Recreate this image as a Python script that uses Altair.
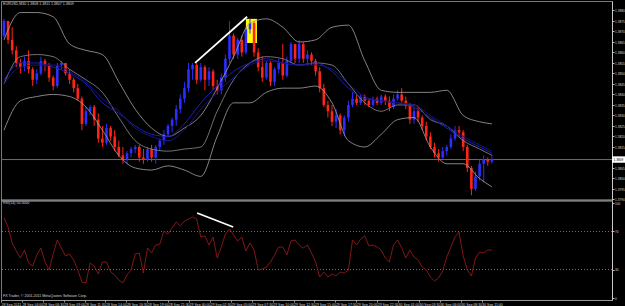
import altair as alt
import pandas as pd

SYMBOL = "EURUSD,M30"
RSI_NAME = "RSI(14)"
COPYRIGHT = "FX Trader, \u00a9 2001-2011 MetaQuotes Software Corp."
FONT = "Liberation Sans"

# ---- candles (bar index 0..119) ----
open_ = [1.3868, 1.3875, 1.3866, 1.3861, 1.3855, 1.3853, 1.3856, 1.3852, 1.3847, 1.3850,
         1.3856, 1.3854, 1.3848, 1.3844, 1.3854, 1.3855, 1.3850, 1.3847, 1.3843, 1.3838,
         1.3826, 1.3832, 1.3834, 1.3828, 1.3819, 1.3817, 1.3824, 1.3820, 1.3815, 1.3811,
         1.3809, 1.3812, 1.3814, 1.3815, 1.3810, 1.3809, 1.3814, 1.3810, 1.3815, 1.3818,
         1.3821, 1.3825, 1.3828, 1.3833, 1.3838, 1.3843, 1.3852, 1.3854, 1.3847, 1.3853,
         1.3847, 1.3851, 1.3844, 1.3842, 1.3848, 1.3857, 1.3868, 1.3859, 1.3866, 1.3860,
         1.3871, 1.3874, 1.3860, 1.3853, 1.3848, 1.3855, 1.3846, 1.3852, 1.3855, 1.3849,
         1.3856, 1.3864, 1.3857, 1.3864, 1.3857, 1.3859, 1.3856, 1.3851, 1.3843, 1.3835,
         1.3832, 1.3827, 1.3830, 1.3823, 1.3829, 1.3835, 1.3838, 1.3836, 1.3839, 1.3837,
         1.3835, 1.3838, 1.3836, 1.3839, 1.3837, 1.3834, 1.3838, 1.3840, 1.3837, 1.3835,
         1.3828, 1.3832, 1.3829, 1.3825, 1.3820, 1.3815, 1.3812, 1.3810, 1.3813, 1.3815,
         1.3819, 1.3823, 1.3822, 1.3815, 1.3805, 1.3795, 1.3801, 1.3807, 1.3809, 1.3808]
high_ = [1.3876, 1.3875, 1.3872, 1.3863, 1.3857, 1.3858, 1.3861, 1.3853, 1.3852, 1.3858,
         1.3857, 1.3855, 1.3849, 1.3855, 1.3856, 1.3855, 1.3852, 1.3848, 1.3845, 1.3839,
         1.3834, 1.3835, 1.3835, 1.3831, 1.3825, 1.3826, 1.3825, 1.3823, 1.3818, 1.3815,
         1.3813, 1.3815, 1.3816, 1.3816, 1.3814, 1.3815, 1.3816, 1.3816, 1.3819, 1.3823,
         1.3826, 1.3829, 1.3835, 1.3840, 1.3846, 1.3855, 1.3855, 1.3855, 1.3855, 1.3854,
         1.3853, 1.3852, 1.3847, 1.3850, 1.3859, 1.3875, 1.3869, 1.3867, 1.3868, 1.3872,
         1.3876, 1.3875, 1.3862, 1.3858, 1.3856, 1.3856, 1.3853, 1.3857, 1.3864, 1.3858,
         1.3865, 1.3864, 1.3866, 1.3865, 1.3861, 1.3860, 1.3857, 1.3853, 1.3845, 1.3837,
         1.3835, 1.3833, 1.3831, 1.3830, 1.3837, 1.3841, 1.3840, 1.3840, 1.3840, 1.3838,
         1.3839, 1.3839, 1.3840, 1.3840, 1.3839, 1.3840, 1.3842, 1.3843, 1.3839, 1.3836,
         1.3834, 1.3834, 1.3830, 1.3827, 1.3822, 1.3817, 1.3814, 1.3815, 1.3816, 1.3821,
         1.3825, 1.3825, 1.3823, 1.3816, 1.3806, 1.3803, 1.3809, 1.3811, 1.3810, 1.3811]
low_ = [1.3867, 1.3864, 1.3859, 1.3853, 1.3850, 1.3851, 1.3850, 1.3844, 1.3845, 1.3849,
        1.3851, 1.3846, 1.3842, 1.3843, 1.3852, 1.3849, 1.3845, 1.3841, 1.3837, 1.3823,
        1.3825, 1.3830, 1.3825, 1.3817, 1.3815, 1.3816, 1.3818, 1.3813, 1.3810, 1.3807,
        1.3807, 1.3810, 1.3812, 1.3808, 1.3807, 1.3808, 1.3808, 1.3807, 1.3813, 1.3816,
        1.3820, 1.3822, 1.3825, 1.3831, 1.3836, 1.3841, 1.3847, 1.3845, 1.3846, 1.3842,
        1.3844, 1.3842, 1.3840, 1.3840, 1.3846, 1.3855, 1.3857, 1.3857, 1.3858, 1.3859,
        1.3869, 1.3858, 1.3851, 1.3846, 1.3847, 1.3844, 1.3844, 1.3850, 1.3847, 1.3848,
        1.3855, 1.3855, 1.3855, 1.3855, 1.3855, 1.3854, 1.3849, 1.3841, 1.3834, 1.3829,
        1.3825, 1.3824, 1.3821, 1.3820, 1.3827, 1.3834, 1.3835, 1.3835, 1.3835, 1.3834,
        1.3834, 1.3835, 1.3835, 1.3835, 1.3832, 1.3833, 1.3837, 1.3836, 1.3833, 1.3826,
        1.3826, 1.3827, 1.3823, 1.3818, 1.3814, 1.3810, 1.3808, 1.3809, 1.3811, 1.3814,
        1.3818, 1.3820, 1.3813, 1.3803, 1.3792, 1.3794, 1.3799, 1.3798, 1.3806, 1.3807]
close_ = [1.3875, 1.3866, 1.3861, 1.3855, 1.3853, 1.3856, 1.3852, 1.3847, 1.3850, 1.3856,
          1.3854, 1.3848, 1.3844, 1.3854, 1.3855, 1.3850, 1.3847, 1.3843, 1.3838, 1.3826,
          1.3832, 1.3834, 1.3828, 1.3819, 1.3817, 1.3824, 1.3820, 1.3815, 1.3811, 1.3809,
          1.3812, 1.3814, 1.3815, 1.3810, 1.3809, 1.3814, 1.3810, 1.3815, 1.3818, 1.3821,
          1.3825, 1.3828, 1.3833, 1.3838, 1.3843, 1.3852, 1.3854, 1.3847, 1.3853, 1.3847,
          1.3851, 1.3844, 1.3842, 1.3848, 1.3857, 1.3868, 1.3859, 1.3866, 1.3860, 1.3871,
          1.3874, 1.3860, 1.3853, 1.3848, 1.3855, 1.3846, 1.3852, 1.3855, 1.3849, 1.3856,
          1.3864, 1.3857, 1.3864, 1.3857, 1.3859, 1.3856, 1.3851, 1.3843, 1.3835, 1.3832,
          1.3827, 1.3830, 1.3823, 1.3829, 1.3835, 1.3838, 1.3836, 1.3839, 1.3837, 1.3835,
          1.3838, 1.3836, 1.3839, 1.3837, 1.3834, 1.3838, 1.3840, 1.3837, 1.3835, 1.3828,
          1.3832, 1.3829, 1.3825, 1.3820, 1.3815, 1.3812, 1.3810, 1.3813, 1.3815, 1.3819,
          1.3823, 1.3822, 1.3815, 1.3805, 1.3795, 1.3801, 1.3807, 1.3809, 1.3808, 1.3809]

# ---- RSI per bar ----
rsi = [84.2, 74.7, 57.9, 49.5, 42.1, 50.5, 36.8, 33.7, 45.3, 52.6,
       37.9, 29.5, 46.3, 61.1, 52.6, 44.2, 46.3, 40.0, 29.5, 16.8,
       15.8, 36.8, 33.7, 25.3, 37.9, 37.9, 27.4, 24.2, 18.9, 15.8,
       24.2, 29.5, 46.3, 47.4, 26.3, 52.6, 47.4, 55.8, 56.8, 70.5,
       67.4, 73.7, 80.0, 75.8, 81.0, 83.2, 85.3, 83.2, 64.2, 65.3,
       55.8, 64.2, 42.1, 53.7, 67.4, 72.6, 66.3, 60.0, 64.2, 49.5,
       57.9, 50.5, 29.5, 30.5, 32.6, 37.9, 45.3, 53.7, 53.7, 45.3,
       60.0, 61.1, 55.8, 52.6, 55.8, 47.4, 37.9, 22.1, 27.4, 22.1,
       25.3, 23.2, 27.4, 26.3, 29.5, 61.1, 55.8, 62.1, 65.3, 54.7,
       55.8, 53.7, 50.5, 42.1, 37.9, 55.8, 61.1, 52.6, 42.1, 50.5,
       43.2, 40.0, 32.6, 29.5, 22.1, 17.9, 21.1, 28.4, 43.2, 53.7,
       64.2, 69.5, 44.2, 29.5, 23.2, 42.1, 48.4, 47.4, 50.5, 50.5]

# ---- indicator lines, sampled at these bars ----
band_idx = [0, 4, 8, 12, 16, 20, 24, 28, 32, 36, 40, 44, 48, 52, 56, 60,
            64, 68, 72, 76, 80, 84, 88, 92, 96, 100, 104, 108, 112, 116, 119]
bb_upper = [1.3866, 1.3879, 1.3879, 1.3877, 1.3864, 1.3861, 1.3859, 1.3846, 1.3833, 1.3824,
            1.3820, 1.3824, 1.3830, 1.3843, 1.3858, 1.3874, 1.3876, 1.3872, 1.3865, 1.3866,
            1.3872, 1.3873, 1.3856, 1.3842, 1.3841, 1.3841, 1.3841, 1.3842, 1.3830, 1.3827, 1.3826]
bb_middle = [1.3845, 1.3858, 1.3859, 1.3858, 1.3852, 1.3847, 1.3841, 1.3829, 1.3818, 1.3814,
             1.3813, 1.3814, 1.3815, 1.3832, 1.3847, 1.3855, 1.3858, 1.3857, 1.3854, 1.3855,
             1.3854, 1.3845, 1.3836, 1.3832, 1.3835, 1.3835, 1.3828, 1.3825, 1.3818, 1.3814, 1.3811]
bb_lower = [1.3823, 1.3837, 1.3839, 1.3840, 1.3839, 1.3834, 1.3823, 1.3811, 1.3805, 1.3804,
            1.3806, 1.3804, 1.3801, 1.3820, 1.3836, 1.3836, 1.3841, 1.3843, 1.3843, 1.3844,
            1.3836, 1.3818, 1.3815, 1.3821, 1.3828, 1.3829, 1.3815, 1.3807, 1.3807, 1.3800, 1.3796]
ma_fast = [1.3847, 1.3855, 1.3855, 1.3853, 1.3850, 1.3845, 1.3836, 1.3831, 1.3825, 1.3821,
           1.3820, 1.3826, 1.3836, 1.3844, 1.3851, 1.3855, 1.3857, 1.3855, 1.3854, 1.3855,
           1.3851, 1.3843, 1.3838, 1.3837, 1.3836, 1.3834, 1.3829, 1.3824, 1.3819, 1.3815, 1.3812]
ma_slow = [1.3845, 1.3853, 1.3854, 1.3854, 1.3851, 1.3846, 1.3838, 1.3832, 1.3824, 1.3820,
           1.3818, 1.3823, 1.3833, 1.3841, 1.3848, 1.3854, 1.3856, 1.3855, 1.3854, 1.3854,
           1.3852, 1.3845, 1.3839, 1.3837, 1.3836, 1.3835, 1.3830, 1.3825, 1.3820, 1.3816, 1.3813]

# ---- drawn objects ----
trend_bar = [46.6, 59.3]
trend_price = [1.3855, 1.3877]
rsi_trend_bar = [47.1, 55.9]
rsi_trend_val = [89.5, 74.7]
box_bar = [59.0, 61.7]
box_price = [1.38645, 1.3876]

# ---- axis labels (1.3810 sits under the current-price marker) ----
price_ticks = [1.3790, 1.3795, 1.3800, 1.3805, 1.3815, 1.3820, 1.3825, 1.3830, 1.3835,
               1.3840, 1.3845, 1.3850, 1.3855, 1.3860, 1.3865, 1.3870, 1.3875, 1.3880]
rsi_ticks = [0, 30, 70, 100]
rsi_levels = [30, 70]
time_labels = ["28 Sep 2011", "28 Sep 04:00", "28 Sep 06:30", "28 Sep 09:00", "28 Sep 11:30",
               "28 Sep 14:00", "28 Sep 16:30", "28 Sep 19:00", "28 Sep 21:30", "29 Sep 00:00",
               "29 Sep 02:30", "29 Sep 05:00", "29 Sep 07:30", "29 Sep 10:00", "29 Sep 12:30",
               "29 Sep 15:00", "29 Sep 17:30", "29 Sep 20:00", "29 Sep 22:30", "30 Sep 01:00",
               "30 Sep 03:30", "30 Sep 06:00", "30 Sep 08:30", "30 Sep 11:00"]

# ---- layout constants ----
W, H = 611, 299
MAIN_H = 199
PX_BAR = 4.1
X0 = -0.73
STEP = 20.9 / PX_BAR
PRICE_TOP = 1.38845
PRICE_BOT = round(PRICE_TOP - MAIN_H / 21000, 6)
RSI_LO, RSI_HI = -2.1, 102.1

UP, DOWN = "#2d2dff", "#ff2418"
TXT = "#d6d6d6"
AX_FS = 3.2

bars = pd.DataFrame({"i": list(range(len(close_))), "o": open_, "h": high_, "l": low_, "c": close_})
bars["dir"] = ["up" if c >= o else "down" for o, c in zip(open_, close_)]
bands = pd.DataFrame({"i": band_idx, "upper": bb_upper, "middle": bb_middle, "lower": bb_lower,
                      "fast": ma_fast, "slow": ma_slow})
rsi_df = pd.DataFrame({"i": list(range(len(rsi))), "v": rsi})

x_scale = alt.Scale(domain=[X0, X0 + W / PX_BAR], nice=False, zero=False)
tick_pos = [round(X0 + k * STEP, 4) for k in range(len(time_labels))]
arr = "[" + ",".join("'%s'" % s for s in time_labels) + "]"
label_expr = "%s[round((datum.value - (%s)) / %.5f)]" % (arr, X0, STEP)
x_axis = alt.Axis(values=tick_pos, labelExpr=label_expr, title=None, grid=False,
                  labelAlign="left", labelBaseline="top", labelPadding=0, tickSize=2,
                  labelFontSize=3.5, labelColor=TXT, labelFont=FONT, domainColor="#9a9a9a",
                  tickColor="#9a9a9a", labelOverlap=False, labelFlush=False, labelBound=False)


def X(field="i"):
    return alt.X(field + ":Q", scale=x_scale, axis=x_axis)


p_scale = alt.Scale(domain=[PRICE_BOT, PRICE_TOP], range=[MAIN_H, 0], nice=False, zero=False)
p_axis = alt.Axis(orient="right", values=price_ticks, format=".4f", title=None, grid=False,
                  labelFontSize=AX_FS, labelColor=TXT, labelFont=FONT, labelPadding=0.5, tickSize=2,
                  tickColor="#c0c0c0", domainColor="#c8c8c8", labelOverlap=False, labelFlush=False,
                  labelBound=False)
r_scale = alt.Scale(domain=[RSI_LO, RSI_HI], range=[H, MAIN_H + 1], nice=False, zero=False)
r_axis = alt.Axis(orient="right", values=rsi_ticks, format="d", title=None, grid=False,
                  labelFontSize=AX_FS, labelColor=TXT, labelFont=FONT, labelPadding=0.5, tickSize=2,
                  tickColor="#c0c0c0", domainColor="#c8c8c8", labelOverlap=False, labelFlush=False,
                  labelBound=False)


def PY(field, axis=None):
    return alt.Y(field + ":Q", scale=p_scale, axis=axis)


def RY(field, axis=None):
    return alt.Y(field + ":Q", scale=r_scale, axis=axis)


color_dir = alt.Color("dir:N", scale=alt.Scale(domain=["up", "down"], range=[UP, DOWN]), legend=None)

last = pd.DataFrame({"c": [close_[-1]], "t": ["%.4f" % close_[-1]]})

# ---------------- main panel ----------------
price_axis_layer = alt.Chart(pd.DataFrame({"p": [PRICE_BOT]})).mark_rule(color="#a8a8a8", strokeWidth=1) \
    .encode(y=PY("p", p_axis))
bid_line = alt.Chart(last).mark_rule(color="#6e6e6e", strokeWidth=1).encode(y=PY("c"))
box = alt.Chart(pd.DataFrame({"i": [box_bar[0]], "i2": [box_bar[1]], "p": [box_price[0]], "p2": [box_price[1]]})) \
    .mark_rect(color="#ffff00").encode(x=X("i"), x2="i2:Q", y=PY("p"), y2="p2:Q")
wicks = alt.Chart(bars).mark_rule(strokeWidth=1).encode(x=X(), y=PY("l"), y2="h:Q", color=color_dir)
bodies = alt.Chart(bars).mark_rule(strokeWidth=2.6, strokeCap="butt").encode(x=X(), y=PY("o"), y2="c:Q", color=color_dir)


def band_line(field, color, width=0.8):
    return alt.Chart(bands).mark_line(color=color, strokeWidth=width, interpolate="monotone").encode(
        x=X(), y=PY(field))


upper = band_line("upper", "#a4a4a4")
middle = band_line("middle", "#8e8e8e")
lower = band_line("lower", "#a4a4a4")
fast = band_line("fast", "#1f1fb0", 1.0)
slow = band_line("slow", "#141488", 1.0)
trend = alt.Chart(pd.DataFrame({"i": trend_bar, "p": trend_price})).mark_line(color="white", strokeWidth=1.8) \
    .encode(x=X(), y=PY("p"))
header = alt.Chart(pd.DataFrame({"t": ["%s  %.4f %.4f %.4f %.4f" % (SYMBOL, open_[-1], high_[-1], low_[-1], close_[-1])]})) \
    .mark_text(align="left", baseline="middle", fontSize=3.6, font=FONT, color=TXT) \
    .encode(x=alt.value(2), y=alt.value(2.5), text="t:N")
price_box = alt.Chart(last).mark_point(shape="M0,-3.2L13.5,-3.2L13.5,3.2L0,3.2Z", size=4, filled=True,
                                       color="white", opacity=1, strokeWidth=0) \
    .encode(x=alt.value(W), y=PY("c"))
price_txt = alt.Chart(last).mark_text(align="left", baseline="middle", fontSize=AX_FS, font=FONT, color="black") \
    .encode(x=alt.value(W + 1.5), y=PY("c"), text="t:N")

# ---------------- RSI panel ----------------
rsi_axis_layer = alt.Chart(pd.DataFrame({"v": [RSI_HI]})).mark_rule(color="#a8a8a8", strokeWidth=1) \
    .encode(y=RY("v", r_axis))
levels = alt.Chart(pd.DataFrame({"v": rsi_levels})).mark_rule(color="#8a8a8a", strokeWidth=0.8, strokeDash=[1, 2]) \
    .encode(y=RY("v"))
rsi_line = alt.Chart(rsi_df).mark_line(color="#8e1a1a", strokeWidth=0.9).encode(x=X(), y=RY("v"))
rsi_trend = alt.Chart(pd.DataFrame({"i": rsi_trend_bar, "v": rsi_trend_val})).mark_line(color="white", strokeWidth=1.6) \
    .encode(x=X(), y=RY("v"))
rsi_header = alt.Chart(pd.DataFrame({"t": ["%s %.4f" % (RSI_NAME, rsi[-1])]})) \
    .mark_text(align="left", baseline="middle", fontSize=3.6, font=FONT, color=TXT) \
    .encode(x=alt.value(2), y=alt.value(MAIN_H + 3), text="t:N")
copyright_txt = alt.Chart(pd.DataFrame({"t": [COPYRIGHT]})) \
    .mark_text(align="left", baseline="middle", fontSize=3.6, font=FONT, color=TXT) \
    .encode(x=alt.value(2), y=alt.value(H - 4), text="t:N")

chart = alt.layer(
    price_axis_layer, bid_line, box, wicks, bodies, upper, middle, lower, fast, slow, trend,
    header, price_box, price_txt,
    rsi_axis_layer, levels, rsi_line, rsi_trend, rsi_header, copyright_txt,
).resolve_scale(y="independent").properties(
    width=W, height=H,
    autosize=alt.AutoSizeParams(type="none"),
    padding={"left": 1, "top": 1, "right": 13, "bottom": 6},
    background="black",
).configure_view(fill="black", stroke="#7a7a7a", strokeWidth=1)

chart.save("out.html", embed_options={"renderer": "svg", "actions": False})
